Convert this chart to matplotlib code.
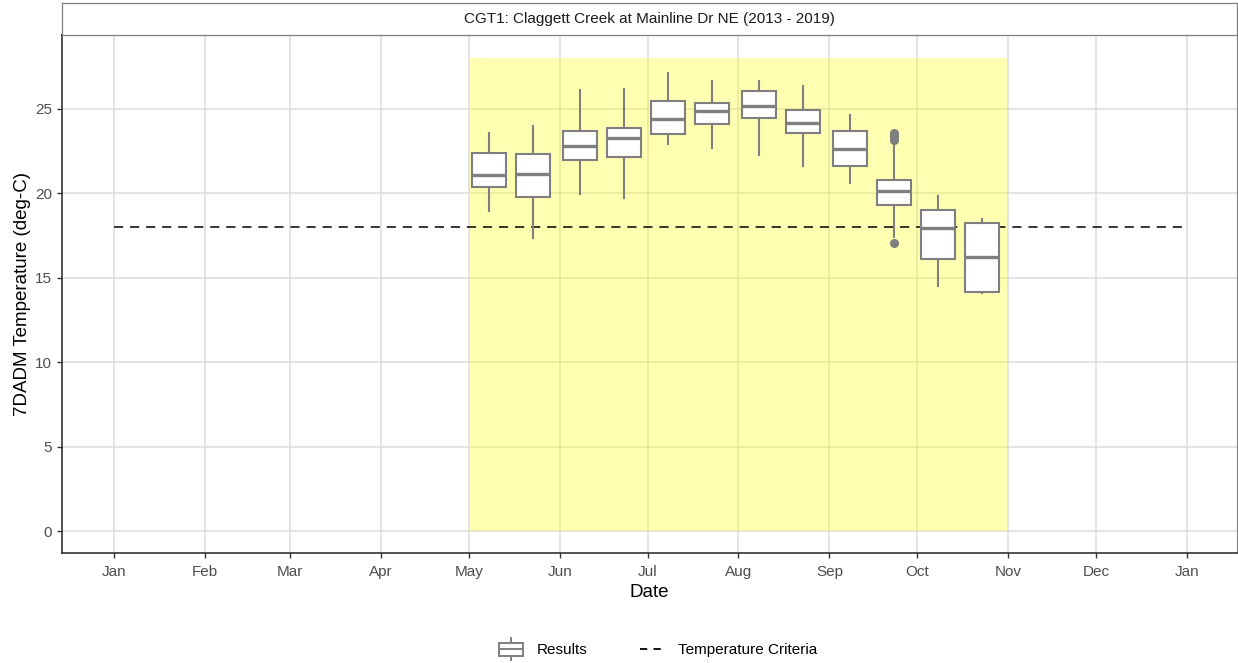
import datetime as dt

import matplotlib
matplotlib.use("Agg")
import matplotlib.pyplot as plt
import matplotlib.dates as mdates
from matplotlib.legend_handler import HandlerBase
from matplotlib.lines import Line2D
from matplotlib.patches import Rectangle

plt.rcParams['font.family'] = ['Liberation Sans', 'DejaVu Sans']

# semi-monthly bins (plotted on a dummy year)
bin_dates = ["05-08", "05-23", "06-08", "06-23", "07-08", "07-23",
             "08-08", "08-23", "09-08", "09-23", "10-08", "10-23"]
whislo = [18.96, 17.34, 19.98, 19.70, 22.94, 22.70, 22.30, 21.64, 20.60, 17.43, 14.53, 14.08]
q1 = [20.40, 19.77, 21.98, 22.14, 23.54, 24.09, 24.45, 23.56, 21.60, 19.31, 16.11, 14.18]
med = [21.10, 21.15, 22.80, 23.28, 24.39, 24.86, 25.20, 24.19, 22.63, 20.12, 17.93, 16.21]
q3 = [22.40, 22.35, 23.70, 23.87, 25.47, 25.36, 26.05, 24.92, 23.70, 20.80, 19.02, 18.25]
whishi = [23.60, 24.00, 26.10, 26.20, 27.15, 26.66, 26.66, 26.36, 24.64, 22.97, 19.87, 18.48]
fliers = [[], [], [], [], [], [], [], [], [], [23.15, 23.30, 23.45, 23.60, 17.04], [], []]

criteria_value = 18
season_start = "05-01"
season_end = "11-01"
season_max = 28
title = "CGT1: Claggett Creek at Mainline Dr NE (2013 - 2019)"

YEAR = 2000


def to_num(mmdd, year=YEAR):
    m, d = (int(v) for v in mmdd.split("-"))
    return mdates.date2num(dt.date(year, m, d))


class BoxHandler(HandlerBase):
    def create_artists(self, legend, orig_handle, xdescent, ydescent,
                       width, height, fontsize, trans):
        cx = width / 2 - xdescent
        bw = width
        y0 = -ydescent
        c = "#7F7F7F"
        box = Rectangle((cx - bw / 2, y0), bw, height,
                        facecolor="white", edgecolor=c, lw=1.4, transform=trans)
        mid = Line2D([cx - bw / 2, cx + bw / 2], [y0 + height / 2] * 2,
                     color=c, lw=1.4, transform=trans)
        top = Line2D([cx, cx], [y0 + height, y0 + height * 1.35],
                     color=c, lw=1.4, transform=trans)
        bot = Line2D([cx, cx], [y0 - height * 0.35, y0],
                     color=c, lw=1.4, transform=trans)
        return [top, bot, box, mid]


fig = plt.figure(figsize=(12.38, 6.63), dpi=100)
ax = fig.add_axes([62 / 1238, 110 / 663, 1175 / 1238, 518 / 663])
strip = fig.add_axes([62 / 1238, 628 / 663, 1175 / 1238, 32 / 663])

grid_c = "#DCDCDC"
ax.set_axisbelow(True)
ax.grid(True, color=grid_c, lw=1.1)

# season shading
s0, s1 = to_num(season_start), to_num(season_end)
ax.add_patch(Rectangle((s0, 0), s1 - s0, season_max, facecolor="yellow",
                       alpha=0.3, edgecolor="none", zorder=1.5))

# criteria line
ax.plot([to_num("01-01"), to_num("01-01", YEAR + 1)], [criteria_value] * 2,
        color="black", lw=1.1, linestyle=(0, (6, 4.5)), zorder=3)

positions = [to_num(d) for d in bin_dates]
stats = []
for i in range(len(bin_dates)):
    stats.append(dict(med=med[i], q1=q1[i], q3=q3[i], whislo=whislo[i],
                      whishi=whishi[i], fliers=fliers[i]))
box_c = "#7F7F7F"
ax.bxp(stats, positions=positions, widths=11.6, showcaps=False, patch_artist=True,
       manage_ticks=False,
       boxprops=dict(facecolor="white", edgecolor=box_c, lw=1.5),
       whiskerprops=dict(color=box_c, lw=1.5),
       medianprops=dict(color=box_c, lw=2.4),
       flierprops=dict(marker="o", markerfacecolor=box_c, markeredgecolor=box_c,
                       markersize=5.5),
       zorder=4)

ax.set_xlim(to_num("01-01") - 17.7, to_num("01-01") + 383)
ax.set_ylim(-1.3, 29.38)
ax.set_yticks([0, 5, 10, 15, 20, 25])
ticks = [to_num("01-01")] + [to_num("%02d-01" % m) for m in range(2, 13)] + [to_num("01-01", YEAR + 1)]
ax.set_xticks(ticks)
ax.xaxis.set_major_formatter(mdates.DateFormatter("%b"))

for side in ["top", "right"]:
    ax.spines[side].set_color("#7F7F7F")
    ax.spines[side].set_linewidth(0.8)
for side in ["left", "bottom"]:
    ax.spines[side].set_color("#222222")
    ax.spines[side].set_linewidth(1.1)
ax.spines["top"].set_color("#111111")
ax.spines["top"].set_linewidth(1.3)
ax.tick_params(length=3.5, width=1, color="#333333", labelcolor="#4D4D4D", labelsize=11)
ax.tick_params(axis="x", pad=5)
ax.set_xlabel("Date", fontsize=13.5, labelpad=4)
ax.set_ylabel("7DADM Temperature (deg-C)", fontsize=13.5, labelpad=3)

strip.set_xticks([])
strip.set_yticks([])
for s in strip.spines.values():
    s.set_color("#7F7F7F")
    s.set_linewidth(0.9)
strip.text(0.5, 0.5, title, ha="center", va="center", fontsize=11,
           color="#1A1A1A", transform=strip.transAxes)

box_handle = Rectangle((0, 0), 1, 1)
line_handle = Line2D([], [], color="black", lw=1.3, linestyle=(0, (4, 3.5)))
fig.legend([box_handle, line_handle], ["Results", "Temperature Criteria"],
           handler_map={Rectangle: BoxHandler()}, loc="center",
           bbox_to_anchor=(658 / 1238, 13 / 663), ncol=2, frameon=False,
           fontsize=11, handlelength=1.6, handleheight=0.95, columnspacing=3.5,
           handletextpad=0.85)

fig.savefig("out.png", dpi=100)
